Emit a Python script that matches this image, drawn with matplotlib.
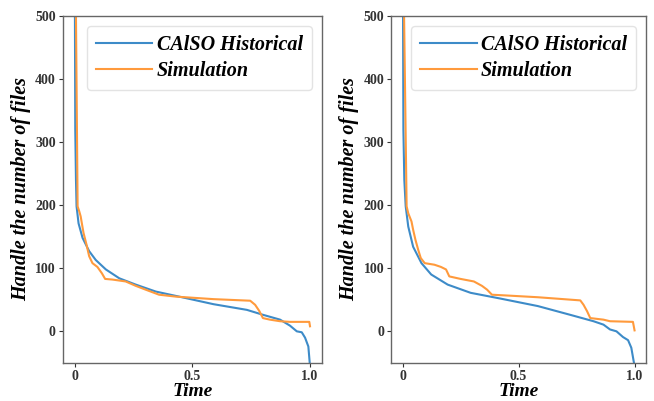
import numpy as np
import matplotlib
matplotlib.use('Agg')
import matplotlib.pyplot as plt

# left panel
left_hist_t = [0.0, 0.003, 0.006, 0.0085, 0.017, 0.034, 0.062, 0.09, 0.133, 0.19, 0.26, 0.345,
               0.444, 0.59, 0.732, 0.802, 0.873, 0.915, 0.944, 0.965, 0.979, 0.993, 1.0]
left_hist_v = [700, 320, 240, 198, 171, 148, 127, 113, 98, 84, 74, 63,
               55, 43, 34, 26, 18.5, 9, 0, -1.5, -10, -24, -55]
left_sim_t = [0.0, 0.006, 0.013, 0.02, 0.026, 0.031, 0.038, 0.051, 0.062, 0.076, 0.097, 0.116,
              0.13, 0.161, 0.217, 0.26, 0.302, 0.359, 0.43, 0.59, 0.746, 0.767, 0.785,
              0.8, 0.83, 0.873, 0.915, 0.997, 1.0]
left_sim_v = [700, 500, 198, 190, 182, 171, 156, 137, 119, 108, 102, 92,
              83, 82, 79, 72, 66, 58, 55, 51, 48.5, 42, 32,
              21, 18.5, 16, 15, 15, 8]

# right panel
right_hist_t = [0.0, 0.003, 0.007, 0.013, 0.024, 0.045, 0.081, 0.123, 0.194, 0.293, 0.42, 0.583,
                0.724, 0.823, 0.866, 0.894, 0.922, 0.95, 0.972, 0.986, 0.996, 1.0]
right_hist_v = [700, 320, 240, 198, 166, 134, 108, 90, 74, 61, 52, 40,
                26, 16, 10.6, 3, 0, -9, -14, -26, -47, -55]
right_sim_t = [0.0, 0.006, 0.017, 0.024, 0.038, 0.045, 0.055, 0.067, 0.078, 0.095, 0.137, 0.165,
               0.187, 0.201, 0.25, 0.307, 0.342, 0.364, 0.385, 0.462, 0.583, 0.766, 0.78,
               0.795, 0.809, 0.866, 0.894, 0.993, 1.0]
right_sim_v = [700, 500, 198, 187, 174, 161, 145, 129, 116, 108, 105.5, 102,
               98, 87, 83, 79, 72, 66, 58, 56.5, 54, 49, 42,
               32, 21, 18.5, 16, 15, 1.5]

labels = ['CAlSO Historical', 'Simulation']
xticks = [0, 0.5, 1.0]
xticklabels = ['0', '0.5', '1.0']
yticks = [0, 100, 200, 300, 400, 500]

blue = '#3d8bc8'
orange = '#ff9a3c'

plt.rcParams['font.family'] = 'Liberation Serif'

fig = plt.figure(figsize=(6.54, 4.01), dpi=100)
ax1 = fig.add_axes([0.096, 0.095, 0.396, 0.866])
ax2 = fig.add_axes([0.598, 0.095, 0.390, 0.866])

panels = [(ax1, left_hist_t, left_hist_v, left_sim_t, left_sim_v),
          (ax2, right_hist_t, right_hist_v, right_sim_t, right_sim_v)]

for ax, ht, hv, st, sv in panels:
    ax.plot(ht, hv, color=blue, lw=1.5, label=labels[0])
    ax.plot(st, sv, color=orange, lw=1.5, label=labels[1])
    ax.set_xlim(-0.05, 1.05)
    ax.set_ylim(-50, 500)
    ax.set_xticks(xticks)
    ax.set_xticklabels(xticklabels)
    ax.set_yticks(yticks)
    for lab in ax.get_xticklabels() + ax.get_yticklabels():
        lab.set_fontweight('bold')
        lab.set_fontsize(10)
    ax.tick_params(colors='#333333', length=3, width=0.8, pad=2)
    for s in ax.spines.values():
        s.set_color('#666666')
        s.set_linewidth(1.0)
    ax.set_xlabel('Time', fontsize=14, fontweight='bold', style='italic', labelpad=0)
    ax.set_ylabel('Handle the number of files', fontsize=14.5, fontweight='bold', style='italic', labelpad=3)
    leg = ax.legend(loc='upper right', prop={'size': 14.5, 'weight': 'bold', 'style': 'italic'},
                    handlelength=2.8, handletextpad=0.2, borderpad=0.45, labelspacing=0.3,
                    borderaxespad=0.5, fancybox=True)
    leg.get_frame().set_edgecolor('#dddddd')

fig.savefig('out.png', dpi=100)
